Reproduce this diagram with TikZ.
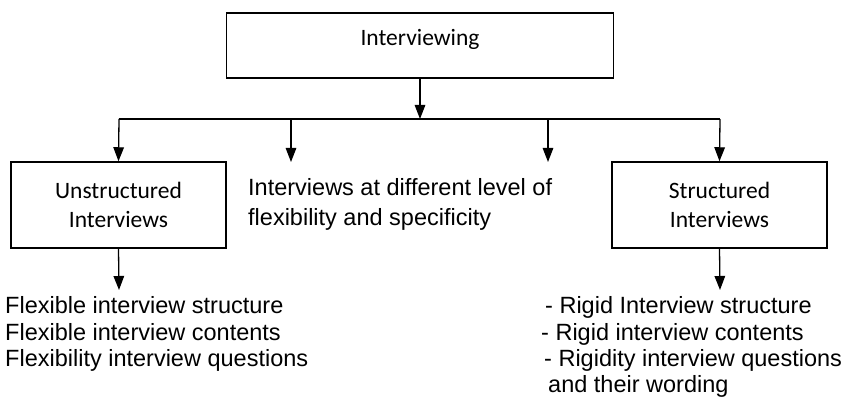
\documentclass[tikz,border=0pt]{standalone}
\usepackage{fontspec}
\setmainfont{Liberation Sans}
\newfontfamily\boxfont{Carlito}
\usetikzlibrary{arrows.meta}

\tikzset{
  frame/.style={draw=black, line width=1.5pt, inner sep=0pt, align=center,
                font={\boxfont\fontsize{23.5}{29}\selectfont}},
  link/.style={line width=1.3pt, -{Triangle[length=14pt,width=10.5pt]}},
  plain/.style={line width=1.3pt},
  txt/.style={inner sep=0pt, anchor=base west,
              font={\fontsize{23.5}{27}\selectfont}}
}

\begin{document}
\begin{tikzpicture}[x=1pt, y=-1pt]
  \useasboundingbox (0,0) rectangle (849,398);

  % top box
  \node[frame, minimum width=387pt, minimum height=65pt,
        text height=20pt, text depth=20pt] (top) at (420,45.5) {Interviewing};

  % distribution bar
  \coordinate (busL) at (119,119);
  \coordinate (busR) at (720,119);
  \coordinate (bus)  at (top.south |- busL);
  \coordinate (busM1) at (291,119);
  \coordinate (busM2) at (548,119);
  \coordinate (endM1) at (291,162);
  \coordinate (endM2) at (548,162);

  % second level
  \node[frame, minimum width=215pt, minimum height=86pt] (uns) at (118.5,205)
       {Unstructured\\Interviews};
  \node[frame, minimum width=215pt, minimum height=86pt] (str) at (719.5,205)
       {Structured\\Interviews};
  \node[txt] (mid1) at (248,196) {Interviews at different level of};
  \node[txt] (mid2) at (248,226) {flexibility and specificity};

  \draw[link] (top.south) -- (bus);
  \draw[plain] (busL) -- (busR);
  \draw[link] (busL) -- (uns.north);
  \draw[link] (busM1) -- (endM1);
  \draw[link] (busM2) -- (endM2);
  \draw[link] (busR) -- (str.north);

  % third level
  \coordinate (unsEnd) at (119,290);
  \coordinate (strEnd) at (720,290);
  \draw[link] (uns.south) -- (unsEnd);
  \draw[link] (str.south) -- (strEnd);

  \node[txt] (u1) at (5,313) {Flexible interview structure};
  \node[txt] (u2) at (5,340) {Flexible interview contents};
  \node[txt] (u3) at (5,366) {Flexibility interview questions};

  \node[txt] (s1) at (545,313) {- Rigid Interview structure};
  \node[txt] (s2) at (541,340) {- Rigid interview contents};
  \node[txt] (s3) at (544,366) {- Rigidity interview questions};
  \node[txt] (s4) at (548,392) {and their wording};
\end{tikzpicture}
\end{document}
